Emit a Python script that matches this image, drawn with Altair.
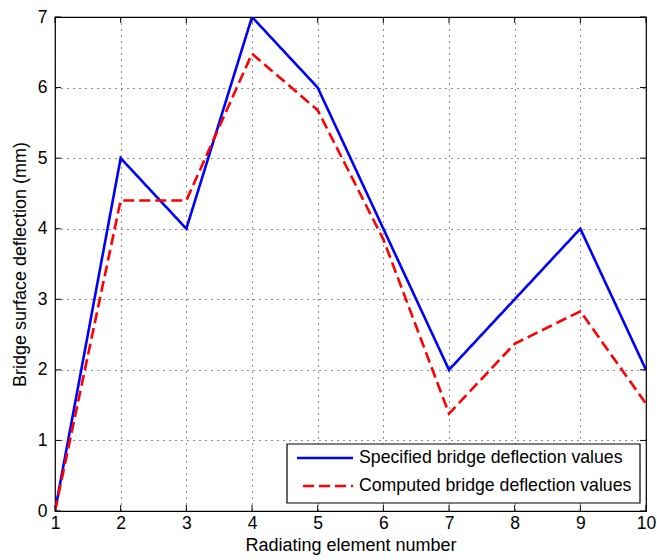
import altair as alt
import pandas as pd

# ---- data ----
elements = [1, 2, 3, 4, 5, 6, 7, 8, 9, 10]
specified = [0, 5, 4, 7, 6, 4, 2, 3, 4, 2]
computed = [0, 4.4, 4.4, 6.48, 5.68, 3.85, 1.38, 2.37, 2.83, 1.52]
series_names = ["Specified bridge deflection values", "Computed bridge deflection values"]
series_colors = ["#0000FF", "#FF0000"]
x_ticks = [1, 2, 3, 4, 5, 6, 7, 8, 9, 10]
y_ticks = [0, 1, 2, 3, 4, 5, 6, 7]

W, H = 591, 494
FONT = "Liberation Sans"

rows = []
for e, s, c in zip(elements, specified, computed):
    rows.append({"element": e, "deflection": s, "series": series_names[0]})
    rows.append({"element": e, "deflection": c, "series": series_names[1]})
df = pd.DataFrame(rows)

xscale = alt.Scale(domain=[1, 10], nice=False, zero=False)
yscale = alt.Scale(domain=[0, 7], nice=False, zero=False)

xaxis = alt.Axis(values=x_ticks, title="Radiating element number", grid=True,
                 gridDash=[1, 5], gridColor="#000", gridWidth=1, gridOpacity=0.9,
                 domain=False, ticks=False, labelPadding=3, titlePadding=5,
                 labelFontSize=17.5, titleFontSize=18, labelFont=FONT, titleFont=FONT,
                 labelColor="#000", titleColor="#000", titleFontWeight="normal",
                 labelFlush=False)
yaxis = alt.Axis(values=y_ticks, title="Bridge surface deflection (mm)", grid=True,
                 gridDash=[1, 5], gridColor="#000", gridWidth=1, gridOpacity=0.9,
                 domain=False, ticks=False, labelPadding=8, titlePadding=8,
                 labelFontSize=17.5, titleFontSize=18, labelFont=FONT, titleFont=FONT,
                 labelColor="#000", titleColor="#000", titleFontWeight="normal",
                 labelFlush=False)

lines = alt.Chart(df).mark_line(strokeWidth=2.6, clip=True).encode(
    x=alt.X("element:Q", scale=xscale, axis=xaxis),
    y=alt.Y("deflection:Q", scale=yscale, axis=yaxis),
    color=alt.Color("series:N", scale=alt.Scale(domain=series_names, range=series_colors), legend=None),
    strokeDash=alt.StrokeDash("series:N", scale=alt.Scale(domain=series_names, range=[[1, 0], [11, 5]]), legend=None),
    order=alt.Order("element:Q"),
)

# inward tick marks on all four sides
xt = pd.DataFrame({"element": x_ticks})
yt = pd.DataFrame({"deflection": y_ticks})
tick_style = dict(color="#000", strokeWidth=1)
xb = alt.Chart(xt).mark_rule(**tick_style).encode(
    x=alt.X("element:Q", scale=xscale, axis=xaxis), y=alt.value(H), y2=alt.value(H - 6))
xtop = alt.Chart(xt).mark_rule(**tick_style).encode(
    x=alt.X("element:Q", scale=xscale, axis=xaxis), y=alt.value(0), y2=alt.value(6))
yl = alt.Chart(yt).mark_rule(**tick_style).encode(
    y=alt.Y("deflection:Q", scale=yscale, axis=yaxis), x=alt.value(0), x2=alt.value(6))
yr = alt.Chart(yt).mark_rule(**tick_style).encode(
    y=alt.Y("deflection:Q", scale=yscale, axis=yaxis), x=alt.value(W), x2=alt.value(W - 6))

# legend box in the lower right corner, as in the reference
one = pd.DataFrame({"a": [0]})
box = alt.Chart(one).mark_rect(fill="white", stroke="#000", strokeWidth=1.2).encode(
    x=alt.value(232), x2=alt.value(585), y=alt.value(427), y2=alt.value(486))
leg1 = alt.Chart(one).mark_rule(color=series_colors[0], strokeWidth=2.6).encode(
    x=alt.value(242), x2=alt.value(298), y=alt.value(441))
leg2 = alt.Chart(one).mark_rule(color=series_colors[1], strokeWidth=2.6, strokeDash=[11, 5]).encode(
    x=alt.value(248), x2=alt.value(298), y=alt.value(469))
txt1 = alt.Chart(pd.DataFrame({"name": [series_names[0]]})).mark_text(
    align="left", baseline="middle", font=FONT, fontSize=17.7, color="#000").encode(
    text="name:N", x=alt.value(304), y=alt.value(441))
txt2 = alt.Chart(pd.DataFrame({"name": [series_names[1]]})).mark_text(
    align="left", baseline="middle", font=FONT, fontSize=17.7, color="#000").encode(
    text="name:N", x=alt.value(304), y=alt.value(469))

chart = alt.layer(lines, xb, xtop, yl, yr, box, leg1, leg2, txt1, txt2).properties(
    width=W, height=H,
    autosize=alt.AutoSizeParams(type="none"),
    padding={"left": 55, "top": 17, "right": 11, "bottom": 49},
    background="white",
).configure_view(stroke="#000", strokeWidth=1.2)

chart.save("out.html", embed_options={"renderer": "svg", "actions": False})
